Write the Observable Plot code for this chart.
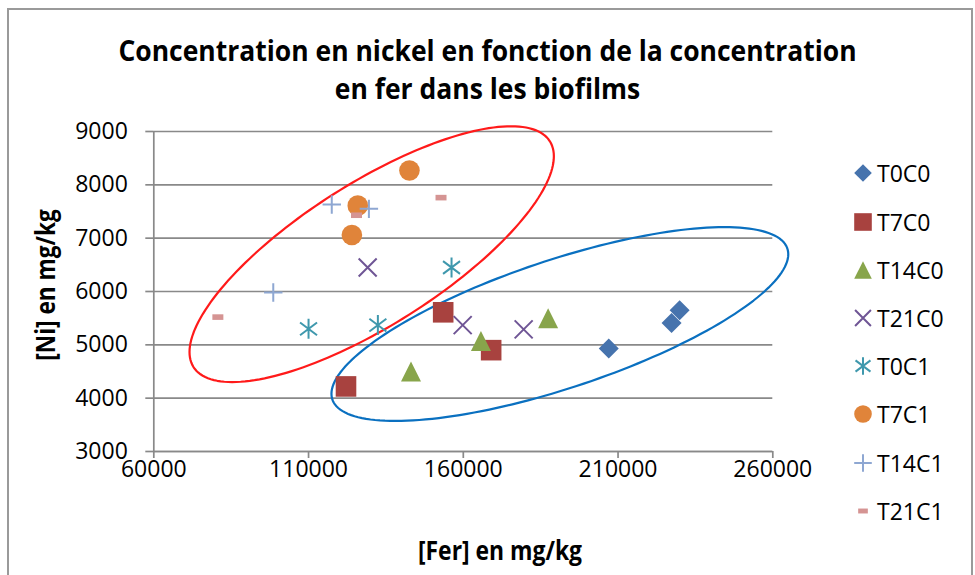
<!DOCTYPE html>
<html><head><meta charset="utf-8">
<script src="https://cdn.jsdelivr.net/npm/d3@7"></script>
<script src="https://cdn.jsdelivr.net/npm/@observablehq/plot@0.6"></script>
<style>
html,body{margin:0;padding:0;background:#fff;}
#chart{position:relative;width:975px;height:575px;overflow:hidden;font-family:"Open Sans",sans-serif;color:#000;}
#frame{position:absolute;left:7px;top:8px;width:962px;height:620px;border:2px solid #9a9a9a;}
#plot{position:absolute;left:0;top:0;}
.title{position:absolute;left:0;width:975px;text-align:center;font-family:"Open Sans",sans-serif;font-weight:bold;font-size:29px;white-space:nowrap;line-height:1;transform:scaleX(0.913);transform-origin:487.5px 50%;}
.axt{position:absolute;font-family:"Open Sans",sans-serif;font-weight:bold;font-size:26px;white-space:nowrap;line-height:1;}
.leg{position:absolute;left:852px;height:24px;display:flex;align-items:center;font-size:23px;white-space:nowrap;}
.leg svg{width:22px;height:22px;margin-right:3px;overflow:visible}
</style></head>
<body>
<div id="chart">
  <div id="frame"></div>
  <div id="plot"></div>
</div>
<script>
// ---------- data ----------
const titleLines = ["Concentration en nickel en fonction de la concentration", "en fer dans les biofilms"];
const xLabel = "[Fer] en mg/kg";
const yLabel = "[Ni] en mg/kg";
const xTicks = [60000, 110000, 160000, 210000, 260000];
const yTicks = [3000, 4000, 5000, 6000, 7000, 8000, 9000];
const seriesNames = ["T0C0", "T7C0", "T14C0", "T21C0", "T0C1", "T7C1", "T14C1", "T21C1"];
const t0c0X = [207000, 227300, 229900];  const t0c0Y = [4930, 5410, 5650];
const t7c0X = [122100, 153500, 169000];  const t7c0Y = [4220, 5610, 4900];
const t14c0X = [143100, 165700, 187400]; const t14c0Y = [4500, 5070, 5500];
const t21c0X = [129100, 159800, 179500]; const t21c0Y = [6450, 5370, 5290];
const t0c1X = [110000, 132400, 156200];  const t0c1Y = [5300, 5370, 6450];
const t7c1X = [124000, 125900, 142600];  const t7c1Y = [7060, 7610, 8270];
const t14c1X = [98600, 117500, 129500];  const t14c1Y = [5980, 7630, 7550];
const t21c1X = [80700, 125500, 152800];  const t21c1Y = [5520, 7430, 7760];
// annotation ellipses (data units): centre and two conjugate semi-axes
const ellipseColors = ["#ff1a1a", "#0a70c0"];
const ellipseCX = [130400, 191200];
const ellipseCY = [6700, 5390];
const ellipseUX = [58860, 73800];
const ellipseUY = [1835, 1308];
const ellipseVY = [1544, -1261];

// ---------- styles ----------
const colors = ["#4673ad", "#a8423f", "#88a54b", "#6f5595", "#3f98ad", "#e0843a", "#8ea7d2", "#d59493"];
const filled = [true, true, true, false, false, true, false, true];
function mk(f){return {draw(ctx,size){const r=Math.sqrt(size/Math.PI); f(ctx,r);}};}
const symbols = [
  mk((c,r)=>{c.moveTo(0,-r);c.lineTo(r,0);c.lineTo(0,r);c.lineTo(-r,0);c.closePath();}),
  mk((c,r)=>{c.moveTo(-r,-r);c.lineTo(r,-r);c.lineTo(r,r);c.lineTo(-r,r);c.closePath();}),
  mk((c,r)=>{c.moveTo(0,-r);c.lineTo(r,r);c.lineTo(-r,r);c.closePath();}),
  mk((c,r)=>{const k=r*0.9;c.moveTo(-k,-k);c.lineTo(k,k);c.moveTo(k,-k);c.lineTo(-k,k);}),
  mk((c,r)=>{const k=r*0.85;c.moveTo(0,-r);c.lineTo(0,r);c.moveTo(-k,-k*0.75);c.lineTo(k,k*0.75);c.moveTo(k,-k*0.75);c.lineTo(-k,k*0.75);}),
  {draw(ctx,size){const r=Math.sqrt(size/Math.PI);ctx.moveTo(r,0);ctx.arc(0,0,r,0,2*Math.PI);}},
  mk((c,r)=>{c.moveTo(-r,0);c.lineTo(r,0);c.moveTo(0,-r);c.lineTo(0,r);}),
  mk((c,r)=>{const w=r*0.55,h=r*0.28;c.moveTo(-w,-h);c.lineTo(w,-h);c.lineTo(w,h);c.lineTo(-w,h);c.closePath();})
];
const sizes = [10, 10.3, 10, 10, 10, 10.3, 9.2, 10];
const xsAll = [t0c0X,t7c0X,t14c0X,t21c0X,t0c1X,t7c1X,t14c1X,t21c1X];
const ysAll = [t0c0Y,t7c0Y,t14c0Y,t21c0Y,t0c1Y,t7c1Y,t14c1Y,t21c1Y];

const dotMarks = seriesNames.map((name, s) => {
  const data = xsAll[s].map((x, i) => ({x, y: ysAll[s][i], series: name}));
  return Plot.dot(data, {
    x: "x", y: "y", r: sizes[s], symbol: symbols[s],
    fill: filled[s] ? colors[s] : "none",
    stroke: filled[s] ? "none" : colors[s],
    strokeWidth: filled[s] ? 0 : 2
  });
});

const ellipseMarks = ellipseColors.map((col, e) => {
  const pts = d3.range(0, 361, 2).map(deg => {
    const t = deg * Math.PI / 180;
    return {x: ellipseCX[e] + ellipseUX[e] * Math.cos(t),
            y: ellipseCY[e] + ellipseUY[e] * Math.cos(t) + ellipseVY[e] * Math.sin(t)};
  });
  return Plot.line(pts, {x: "x", y: "y", stroke: col, strokeWidth: 2.2, curve: "linear-closed"});
});

const gridCol = "#898989";
const plot = Plot.plot({
  width: 975, height: 575,
  marginLeft: 153.3, marginRight: 202.7, marginTop: 131, marginBottom: 124,
  x: {domain: [60000, 260000]},
  y: {domain: [3000, 9000]},
  style: {fontFamily: "'Open Sans', sans-serif", fontSize: "23px", color: "#000", background: "transparent", overflow: "visible"},
  marks: [
    Plot.gridY(yTicks, {stroke: gridCol, strokeOpacity: 1, strokeWidth: 1.7}),
    Plot.ruleX([60000], {stroke: gridCol, strokeWidth: 1.7}),
    Plot.ruleY([3000], {stroke: gridCol, strokeWidth: 1.7}),
    Plot.axisY(yTicks, {tickSize: 8, tickPadding: 18, tickFormat: d => String(d), stroke: gridCol, strokeWidth: 1.7, label: null, fill: "#000"}),
    Plot.axisX(xTicks, {tickSize: 7, tickPadding: 2, tickFormat: d => String(d), stroke: gridCol, strokeWidth: 1.7, label: null, fill: "#000"}),
    ...ellipseMarks,
    ...dotMarks
  ]
});
document.getElementById("plot").appendChild(plot);

// ---------- titles ----------
const chart = document.getElementById("chart");
const t1 = document.createElement("div"); t1.className = "title"; t1.style.top = "35px"; t1.textContent = titleLines[0]; chart.appendChild(t1);
const t2 = document.createElement("div"); t2.className = "title"; t2.style.top = "73px"; t2.textContent = titleLines[1]; chart.appendChild(t2);
const xl = document.createElement("div"); xl.className = "axt"; xl.textContent = xLabel;
xl.style.left = "500px"; xl.style.top = "550px"; xl.style.transform = "translate(-50%,-50%) scaleX(0.88)"; chart.appendChild(xl);
const yl = document.createElement("div"); yl.className = "axt"; yl.textContent = yLabel;
yl.style.left = "45px"; yl.style.top = "285px"; yl.style.transform = "translate(-50%,-50%) rotate(-90deg) scaleX(0.87)"; chart.appendChild(yl);

// ---------- legend ----------
seriesNames.forEach((name, s) => {
  const row = document.createElement("div"); row.className = "leg";
  row.style.top = (173.3 + 48.2 * s - 12) + "px";
  const svg = d3.create("svg").attr("viewBox", "-11 -11 22 22");
  svg.append("path").attr("d", d3.symbol(symbols[s], Math.PI * 8.8 * 8.8)())
    .attr("fill", filled[s] ? colors[s] : "none")
    .attr("stroke", filled[s] ? "none" : colors[s])
    .attr("stroke-width", filled[s] ? 0 : 2);
  row.appendChild(svg.node());
  const sp = document.createElement("span"); sp.textContent = name; row.appendChild(sp);
  chart.appendChild(row);
});
</script>
</body></html>
